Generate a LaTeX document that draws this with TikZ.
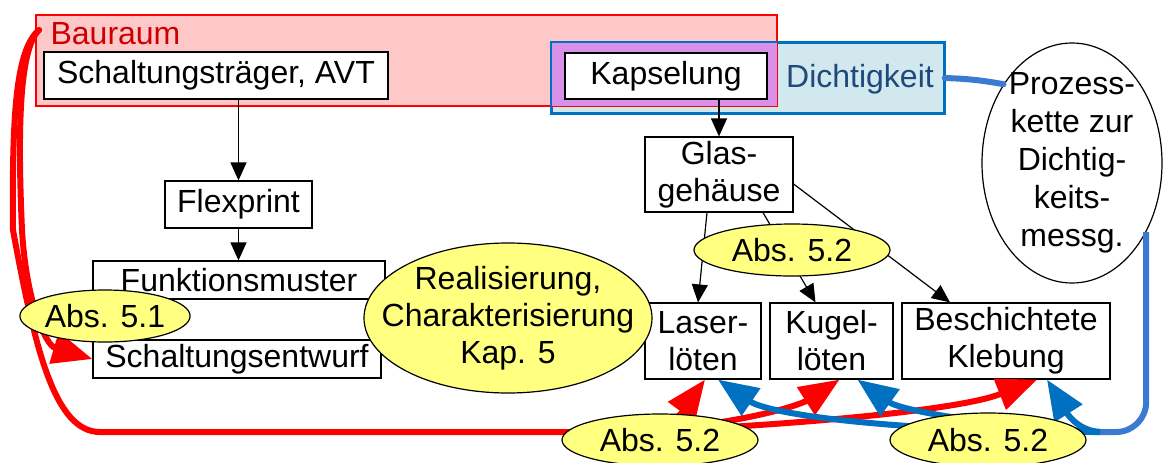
\documentclass[tikz,border=0pt]{standalone}
\usepackage{fontspec}
\setmainfont{Liberation Sans}
\usetikzlibrary{arrows.meta,calc,shapes.geometric}

\definecolor{bauraumfill}{RGB}{255,200,200}
\definecolor{bauraumtext}{RGB}{204,0,0}
\definecolor{dichtfill}{RGB}{208,232,238}
\definecolor{dichtdraw}{RGB}{0,112,192}
\definecolor{dichttext}{RGB}{31,73,125}
\definecolor{overlapfill}{RGB}{216,144,232}
\definecolor{pfeilblau}{RGB}{0,112,192}
\definecolor{linieblau}{RGB}{58,122,208}
\definecolor{gelb}{RGB}{255,255,128}

\tikzset{
  kasten/.style={draw,fill=white,line width=0.6pt,inner sep=0pt,align=center},
  marke/.style={ellipse,draw,fill=gelb,line width=0.6pt,inner sep=0pt,align=center},
  fluss/.style={-{Triangle[length=9pt,width=8pt]},line width=0.6pt},
  rotpfeil/.style={red,line width=3pt,-{Triangle[length=20pt,width=16pt]}},
  blaupfeil/.style={pfeilblau,line width=3pt,-{Triangle[length=20pt,width=16pt]}},
}

\begin{document}
\begin{tikzpicture}[x=0.5pt,y=-0.5pt,font=\fontsize{16}{18.5}\selectfont]
  \useasboundingbox (0,0) rectangle (1164,462);

  % Bereiche Bauraum / Dichtigkeit
  \node[draw=red,fill=bauraumfill,line width=0.6pt,inner sep=0pt,minimum width=370.5pt,minimum height=45.5pt] (bauraumbox) at (406.5,60.5) {};
  \node[draw=dichtdraw,fill=dichtfill,line width=0.8pt,inner sep=0pt,minimum width=196pt,minimum height=35pt] (dichtbox) at (748,78) {};
  \fill[overlapfill] (dichtbox.north west) rectangle (bauraumbox.south east);
  \draw[red,line width=0.6pt] (bauraumbox.north west) rectangle (bauraumbox.south east);
  \draw[dichtdraw,line width=0.8pt] (dichtbox.north west) rectangle (dichtbox.south east);
  \node[bauraumtext,inner sep=0pt] (bauraum) at (115.5,33.5) {Bauraum};
  \node[dichttext,inner sep=0pt] (dicht) at (860,79) {Dichtigkeit};

  % Kaesten
  \node[kasten,line width=1pt,minimum width=172pt,minimum height=23.5pt] (traeger) at (216,75.5) {Schaltungsträger, AVT};
  \node[kasten,minimum width=73.5pt,minimum height=23.5pt] (flex) at (238.5,204.5) {Flexprint};
  \node[kasten,minimum width=146pt,minimum height=19pt] (funktion) at (239,280) {Funktionsmuster};
  \node[kasten,minimum width=144pt,minimum height=19pt] (entwurf) at (237,359) {Schaltungsentwurf};
  \node[kasten,line width=1.1pt,minimum width=101pt,minimum height=23pt] (kapsel) at (666,76) {Kapselung};
  \node[kasten,minimum width=74pt,minimum height=37.5pt] (glas) at (719,174.5) {Glas-\\gehäuse};
  \node[kasten,minimum width=58pt,minimum height=38pt] (laser) at (703,341) {Laser-\\löten};
  \node[kasten,minimum width=61.5pt,minimum height=38pt] (kugel) at (831.5,341) {Kugel-\\löten};
  \node[kasten,minimum width=104pt,minimum height=38pt] (besch) at (1006,341) {Beschichtete\\Klebung};
  \node[ellipse,draw,fill=white,line width=0.6pt,inner sep=0pt,minimum width=90pt,minimum height=120pt] (prozess) at (1072,163) {};
  \node[align=center,inner sep=0pt,font=\fontsize{16}{19}\selectfont] (prozesstext) at (prozess.center) {Prozess-\\kette zur\\Dichtig-\\keits-\\messg.};

  % Pfeile
  \draw[fluss] (flex.north |- traeger.south) -- (flex.north);
  \draw[fluss] (flex.south) -- (flex.south |- funktion.north);
  \draw[fluss] (glas.north |- kapsel.south) -- (glas.north);
  \draw[fluss] ($(glas.south)+(-12,0)$) -- ($(laser.north)+(-5,0)$);
  \draw[fluss] ($(glas.south)+(44,0)$) -- ($(kugel.north)+(-16,0)$);
  \draw[fluss] ($(glas.east)+(0,9.5)$) -- ($(besch.north)+(-56,0)$);

  \coordinate (quelle) at (39,30);
  \coordinate (rsplit) at (630,432);
  \coordinate (bsplit) at (1100,432);

  \draw[red,line width=3pt,line cap=round] (quelle) .. controls (15,50) and (12,120) .. (13,230) .. controls (35,350) and (55,432) .. (100,432) -- (rsplit);
  \draw[rotpfeil,line cap=round] (quelle) .. controls (18,50) and (18,140) .. (22,230) .. controls (26,300) and (45,345) .. (entwurf.west);
  \draw[rotpfeil] (rsplit) .. controls (680,430) and (690,400) .. ($(laser.south)+(2,0)$);
  \draw[rotpfeil] (rsplit) .. controls (740,425) and (800,405) .. ($(kugel.south)+(8,0)$);
  \draw[rotpfeil] (rsplit) .. controls (800,425) and (960,410) .. ($(besch.south)+(31,0)$);

  \draw[linieblau,line width=3pt,line cap=round] (dichtbox.east) to[bend left=4] (prozess.131);
  \draw[linieblau,line width=3pt,rounded corners=15pt] (prozess.-43) |- (bsplit);
  \draw[blaupfeil] (bsplit) .. controls (1070,430) and (1060,400) .. ($(besch.south)+(41,0)$);
  \draw[blaupfeil] (bsplit) .. controls (980,425) and (900,410) .. ($(kugel.south)+(26,0)$);
  \draw[blaupfeil] (bsplit) .. controls (900,432) and (770,415) .. ($(laser.south)+(15,0)$);

  % Marken
  \node[marke,minimum width=76pt,minimum height=26pt] (abs51) at (105,316) {Abs. 5.1};
  \node[marke,minimum width=98pt,minimum height=26pt] (abs52m) at (792,250) {Abs. 5.2};
  \node[marke,minimum width=98pt,minimum height=26pt] (abs52l) at (660,440) {Abs. 5.2};
  \node[marke,minimum width=98pt,minimum height=27pt] (abs52r) at (988,440) {Abs. 5.2};
  \node[marke,minimum width=144pt,minimum height=75pt] (real) at (508,318) {};
  \node[align=center,inner sep=0pt] (realtext) at (real.center) {Realisierung,\\Charakterisierung\\Kap. 5};
\end{tikzpicture}
\end{document}
